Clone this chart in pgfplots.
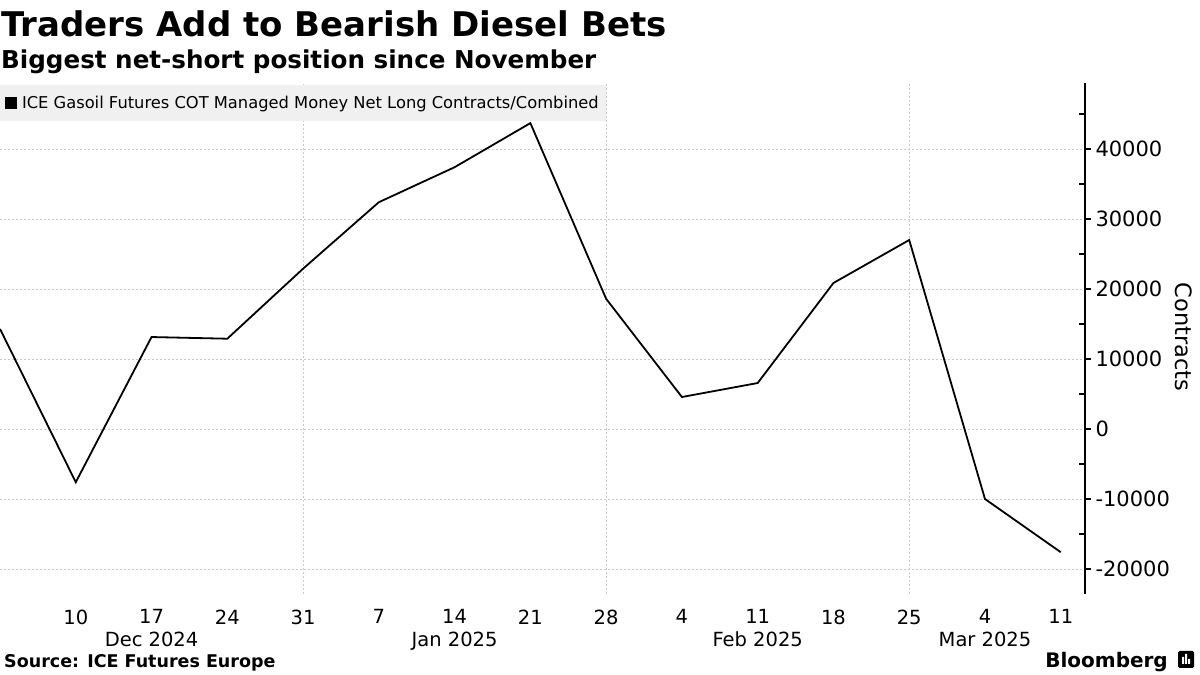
\documentclass[border=0pt]{standalone}
\usepackage{pgfplots}
\pgfplotsset{compat=1.18}
\usepackage{fontspec}
\setmainfont{DejaVu Sans}
\definecolor{gridgray}{HTML}{C8C8C8}
\definecolor{legbg}{HTML}{F0F0F0}

\begin{document}
\begin{tikzpicture}[x=1pt,y=1pt]
\useasboundingbox (0,0) rectangle (1200,675);
\fill[white] (0,0) rectangle (1200,675);

\begin{axis}[
    at={(0pt,81pt)}, anchor=south west,
    scale only axis, width=1085pt, height=511pt,
    xmin=0, xmax=14.32,
    ymin=-23570, ymax=49430,
    axis y line*=right,
    axis x line*=bottom,
    x axis line style={draw=none},
    y axis line style={line width=1.2pt},
    xtick={1,...,14},
    xticklabels={10,17\\Dec 2024,24,31,7,14\\Jan 2025,21,28,4,11\\Feb 2025,18,25,4\\Mar 2025,11},
    xticklabel style={align=center, font=\fontsize{19.5}{23}\selectfont, anchor=north, yshift=-6pt},
    xtick style={draw=none},
    extra x ticks={4,8,12},
    extra x tick labels={},
    extra x tick style={grid=major, major grid style={gridgray, dash pattern=on 2pt off 2pt, line width=0.8pt}},
    ytick={-20000,-10000,...,40000},
    yticklabel style={font=\fontsize{21}{24}\selectfont, anchor=west, xshift=1pt},
    /pgf/number format/assume math mode=true,
    scaled y ticks=false,
    yticklabel={\pgfmathprintnumber[1000 sep={},int detect]{\tick}},
    ymajorgrids,
    major grid style={gridgray, dash pattern=on 2pt off 2pt, line width=0.8pt},
    tick align=outside,
    major tick length=6pt,
    ytick style={line width=1.2pt, black},
    extra y ticks={-15000,-5000,5000,15000,25000,35000,45000},
    extra y tick labels={},
    extra y tick style={tick align=inside, major grid style={draw=none}, tick style={line width=1pt, black}},
    clip=false,
    legend style={at={(0,1)}, anchor=north west, yshift=-2pt, fill=legbg, draw=none,
        font=\fontsize{16.3}{19}\selectfont, inner xsep=5pt, inner ysep=9pt,
        cells={anchor=west}},
    legend image code/.code={\fill[black] (3pt,-5pt) rectangle (13pt,5pt); \path (16pt,0pt);},
]
\addplot[black, line width=1.8pt, line join=miter] coordinates {
    (0, 14300)
    (1, -7600)
    (2, 13140)
    (3, 12900)
    (4, 22900)
    (5, 32400)
    (6, 37400)
    (7, 43700)
    (8, 18600)
    (9, 4570)
    (10, 6570)
    (11, 20860)
    (12, 27000)
    (13, -10000)
    (14, -17600)
};
\addlegendentry{ICE Gasoil Futures COT Managed Money Net Long Contracts/Combined}
\end{axis}

\node[anchor=base west, inner sep=0, font=\bfseries\fontsize{34}{38}\selectfont] at (1,638) {Traders Add to Bearish Diesel Bets};
\node[anchor=base west, inner sep=0, font=\bfseries\fontsize{24.6}{28}\selectfont] at (1,606) {Biggest net-short position since November};
\node[rotate=-90, font=\fontsize{22.5}{26}\selectfont] at (1184,338) {Contracts};
\node[anchor=base west, inner sep=0, font=\bfseries\fontsize{17.5}{20}\selectfont] at (4,7) {Source: ICE Futures Europe};
\node[anchor=base east, inner sep=0, font=\bfseries\fontsize{20}{23}\selectfont] at (1168,7) {Bloomberg};
\fill[black, rounded corners=1.5pt] (1178,7) rectangle (1194,24);
\fill[white] (1182,11) rectangle (1184,18) (1185,11) rectangle (1187,21) (1188,11) rectangle (1190,16);
\end{tikzpicture}
\end{document}
